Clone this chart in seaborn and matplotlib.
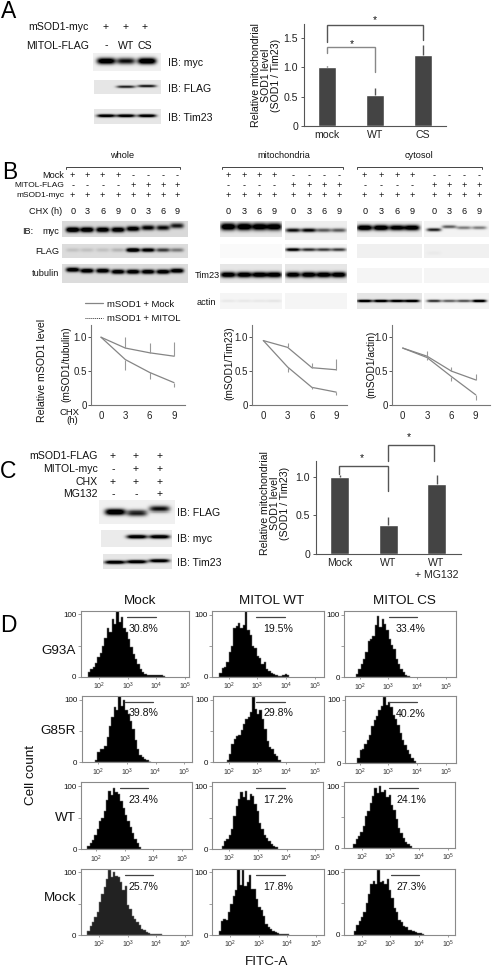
import numpy as np
import pandas as pd
import matplotlib
matplotlib.use('Agg')
import matplotlib.pyplot as plt
import seaborn as sns

W, H = 492, 968

# Panel A
a_cats = ['mock', 'WT', 'CS']
a_vals = [1.0, 0.53, 1.21]
a_errs = [0.01, 0.11, 0.16]
a_myc = [0.95, 0.7, 1.0]
a_flag = [0.0, 0.6, 0.65]
a_tim = [0.85, 0.85, 0.85]

# Panel B
b_hours = [0, 3, 6, 9]
b_chx = [0, 3, 6, 9, 0, 3, 6, 9]
b_mock_row = list('++++----')
b_mitol_row = list('----++++')
b_sod_row = list('++++++++')

whole_mock = [1.0, 0.84, 0.77, 0.72]
whole_mock_err = [0, 0.16, 0.14, 0.21]
whole_mitol = [1.0, 0.67, 0.48, 0.33]
whole_mitol_err = [0, 0.15, 0.10, 0.07]
mito_mock = [0.95, 0.85, 0.55, 0.52]
mito_mock_err = [0, 0.06, 0.07, 0.16]
mito_mitol = [0.95, 0.56, 0.26, 0.19]
mito_mitol_err = [0, 0.08, 0.02, 0.04]
cyto_mock = [0.84, 0.72, 0.50, 0.37]
cyto_mock_err = [0, 0.08, 0.06, 0.09]
cyto_mitol = [0.84, 0.70, 0.42, 0.15]
cyto_mitol_err = [0, 0.03, 0.06, 0.07]

whole_myc = [0.95, 0.9, 0.85, 0.85, 0.8, 0.7, 0.65, 0.6]
whole_flag = [0.08, 0.08, 0.08, 0.12, 0.95, 0.8, 0.5, 0.3]
whole_tub = [0.85, 0.85, 0.85, 0.85, 0.85, 0.85, 0.85, 0.85]
mito_myc_l = [0.95, 0.95, 0.9, 0.9]
mito_myc_r = [0.7, 0.75, 0.45, 0.45]
mito_flag_l = [0, 0, 0, 0]
mito_flag_r = [0.8, 0.6, 0.55, 0.55]
mito_tim_l = [0.9, 0.9, 0.9, 0.9]
mito_tim_r = [0.85, 0.9, 0.9, 0.9]
mito_act_l = [0.04, 0.04, 0.04, 0.05]
mito_act_r = [0, 0, 0, 0]
cyto_myc_l = [0.95, 0.95, 0.85, 0.9]
cyto_myc_r = [0.65, 0.45, 0.35, 0.35]
cyto_flag_l = [0, 0, 0, 0]
cyto_flag_r = [0.02, 0, 0, 0]
cyto_tim_l = [0, 0, 0, 0]
cyto_tim_r = [0, 0, 0, 0]
cyto_act_l = [0.85, 0.85, 0.8, 0.85]
cyto_act_r = [0.6, 0.45, 0.5, 0.9]

# Panel C
c_cats = ['Mock', 'WT', 'WT\n+ MG132']
c_vals = [1.0, 0.38, 0.90]
c_errs = [0.02, 0.10, 0.12]
c_rows = [('mSOD1-FLAG', list('+++')), ('MITOL-myc', list('-++')),
          ('CHX', list('+++')), ('MG132', list('--+'))]
c_flag = [0.95, 0.65, 0.7]
c_myc = [0.0, 0.9, 0.9]
c_tim = [0.9, 0.9, 0.85]

# Panel D, heights per 0.08 decade bin
g93a_mock = [8, 12, 16, 22, 32, 38, 50, 62, 78, 72, 92, 85, 106, 88, 96, 78, 72, 60, 48, 36, 28, 20, 12, 8, 5, 3, 2, 3, 2, 3, 2, 2, 1]
g93a_wt = [6, 14, 16, 24, 40, 50, 78, 82, 86, 78, 84, 108, 76, 68, 50, 46, 34, 30, 20, 24, 12, 10, 6, 5, 3, 1, 1, 2, 4, 2]
g93a_cs = [5, 14, 22, 30, 40, 58, 62, 66, 84, 98, 80, 94, 86, 76, 62, 52, 46, 30, 22, 14, 8, 4, 2]
g85r_mock = [4, 16, 22, 22, 26, 40, 58, 72, 88, 84, 106, 90, 100, 84, 78, 66, 54, 36, 22, 12, 8, 5, 3, 1]
g85r_wt = [4, 14, 30, 38, 42, 44, 52, 62, 70, 72, 80, 104, 86, 78, 84, 70, 54, 34, 24, 22, 14, 10, 3]
g85r_cs = [8, 20, 22, 30, 36, 44, 58, 68, 74, 84, 90, 104, 92, 96, 88, 76, 70, 60, 48, 36, 28, 20, 14, 8, 3]
wt_mock = [5, 10, 15, 22, 32, 44, 50, 60, 78, 92, 86, 97, 90, 88, 76, 66, 54, 44, 36, 26, 16, 10, 3]
wt_wt = [5, 12, 16, 22, 32, 52, 68, 80, 90, 82, 92, 78, 88, 84, 72, 60, 42, 32, 22, 18, 12, 8, 4, 3]
wt_cs = [6, 14, 20, 26, 36, 52, 60, 72, 84, 96, 88, 100, 90, 94, 82, 86, 70, 62, 46, 32, 24, 16, 10, 6, 3]
mock_mock = [6, 14, 20, 28, 36, 52, 66, 76, 90, 104, 92, 100, 94, 92, 84, 72, 78, 48, 42, 30, 26, 20, 16, 10, 8, 5, 3, 2, 1, 1, 2, 1]
mock_wt = [6, 22, 26, 24, 36, 50, 62, 72, 106, 80, 104, 78, 84, 96, 74, 74, 58, 44, 40, 30, 18, 12, 10, 6, 5, 3, 1, 1, 2, 1]
mock_cs = [6, 16, 22, 28, 36, 50, 66, 82, 86, 82, 104, 84, 86, 82, 90, 72, 58, 42, 36, 24, 20, 14, 12, 8, 7, 5, 4, 3, 2, 1]
hist_starts = [1.62, 1.67, 1.87, 1.88, 1.93, 1.92, 1.70, 1.73, 1.71, 1.59, 1.60, 1.73]
hist_pcts = ['30.8%', '19.5%', '33.4%', '39.8%', '29.8%', '40.2%',
             '23.4%', '17.2%', '24.1%', '25.7%', '17.8%', '27.3%']
d_cols = ['Mock', 'MITOL WT', 'MITOL CS']
d_rows = ['G93A', 'G85R', 'WT', 'Mock']

sns.set_theme(style='ticks')
plt.rcParams['font.family'] = ['Liberation Sans', 'DejaVu Sans']
plt.rcParams['axes.linewidth'] = 0.8

fig = plt.figure(figsize=(W / 100, H / 100), dpi=100)
DARK = '#444444'
AX_C = '#555555'
LINE_C = '#858585'


def px_axes(x0, y0, x1, y1):
    return fig.add_axes([x0 / W, 1 - y1 / H, (x1 - x0) / W, (y1 - y0) / H])


def blot(x0, y0, x1, y1, centers, strength, band_y, band_h, bg):
    ax = px_axes(x0, y0, x1, y1)
    xs = np.arange(x0, x1, 0.5) + 0.25
    ys = np.arange(y0, y1, 0.5) + 0.25
    xx, yy = np.meshgrid(xs, ys)
    half = 0.47 * (centers[1] - centers[0])
    img = np.full(xx.shape, float(bg))
    by = band_y if np.ndim(band_y) else [band_y] * len(centers)
    for c, s, b in zip(centers, strength, by):
        img += 1.3 * s * np.exp(-((xx - c) / half) ** 4 - ((yy - b) / band_h) ** 2)
    sns.heatmap(np.clip(img, 0, 1), ax=ax, cmap='gray_r', vmin=0, vmax=1, cbar=False,
                xticklabels=False, yticklabels=False)
    ax.tick_params(length=0)


def bar_panel(rect, cats, vals, errs, xlim, ylim, ticks, labels, fs):
    ax = px_axes(*rect)
    sns.barplot(x=cats, y=vals, color=DARK, width=0.39, saturation=1, ax=ax)
    ax.errorbar(range(3), vals, yerr=[[0, 0, 0], errs], fmt='none', ecolor='#555555',
                elinewidth=1.0, capsize=0)
    ax.set_xlim(*xlim)
    ax.set_ylim(*ylim)
    ax.set_yticks(ticks)
    ax.set_yticklabels(labels)
    sns.despine(ax=ax)
    ax.tick_params(labelsize=fs, length=2, width=0.7, pad=2, color=AX_C, labelcolor='#222222')
    ax.tick_params(axis='x', length=0, pad=3)
    for s in ['left', 'bottom']:
        ax.spines[s].set_color(AX_C)
    return ax


def line_panel(rect, mock, mock_err, mitol, mitol_err, xlim):
    ax = px_axes(*rect)
    sns.lineplot(x=b_hours, y=mock, color=LINE_C, linewidth=0.9, ax=ax)
    sns.lineplot(x=b_hours, y=mitol, color=LINE_C, linewidth=0.9, ax=ax)
    z = [0, 0, 0, 0]
    ax.errorbar(b_hours, mock, yerr=[z, mock_err], fmt='none', ecolor='#999999', elinewidth=0.8)
    ax.errorbar(b_hours, mitol, yerr=[mitol_err, z], fmt='none', ecolor='#999999', elinewidth=0.8)
    ax.set_xlim(*xlim)
    ax.set_ylim(0, 1.18)
    ax.set_xticks(b_hours)
    ax.set_yticks([0, 0.5, 1.0])
    ax.set_yticklabels(['0', '0.5', '1.0'])
    sns.despine(ax=ax)
    ax.tick_params(labelsize=7, length=2, width=0.7, pad=1, color=AX_C, labelcolor='#222222')
    ax.tick_params(axis='x', length=0, pad=4)
    for s in ['left', 'bottom']:
        ax.spines[s].set_color('#777777')
    return ax


# Panel A
blot(93, 52.7, 161, 70.7, [106, 125.7, 146.7], a_myc, 61, 3.2, 0.06)
blot(94, 80, 161, 94.3, [106, 125.7, 146.7], a_flag, [87, 87, 86.3], 1.4, 0.1)
blot(94, 109, 161, 124, [106, 125.7, 146.7], a_tim, 115.5, 1.6, 0.1)
bar_panel((303.5, 24, 446, 126), a_cats, a_vals, a_errs, (-0.49, 2.48), (0, 1.73),
          [0, 0.5, 1.0, 1.5], ['0', '0.5', '1.0', '1.5'], 7.6)

# Panel B blots
whole_x = [72.7, 87, 102.7, 118, 133, 148, 163, 177]
mito_lx = [228, 244, 259.3, 274]
mito_rx = [293.3, 309, 324, 339]
cyto_lx = [364.7, 381, 397, 412]
cyto_rx = [434, 449.3, 464, 479.3]
blot(61.7, 221, 188, 236.7, whole_x, whole_myc, [230, 230, 230, 230, 229, 228, 228, 226], 2.6, 0.15)
blot(61.7, 243.7, 188, 257.7, whole_x, whole_flag, 250, 2.0, 0.14)
blot(61.7, 264, 188, 282.7, whole_x, whole_tub, [270, 271, 271, 272, 272, 272, 272, 271], 2.3, 0.14)
blot(220, 221, 282, 236.7, mito_lx, mito_myc_l, 227, 3.6, 0.1)
blot(285, 221, 346.7, 240, mito_rx, mito_myc_r, 230, 2.0, 0.07)
blot(220, 243.7, 282, 257.7, mito_lx, mito_flag_l, 250, 2, 0.02)
blot(285, 243.7, 346.7, 257.7, mito_rx, mito_flag_r, 249.6, 1.7, 0.05)
blot(220, 264, 282, 282.7, mito_lx, mito_tim_l, 275, 2.8, 0.1)
blot(285, 264, 346.7, 282.7, mito_rx, mito_tim_r, 275, 2.8, 0.1)
blot(220, 293.3, 282, 309.3, mito_lx, mito_act_l, 301, 1.5, 0.04)
blot(285, 293.3, 346.7, 309.3, mito_rx, mito_act_r, 301, 1.5, 0.04)
blot(357.3, 221, 422, 236.7, cyto_lx, cyto_myc_l, 228, 2.8, 0.08)
blot(424.3, 221, 489, 236.7, cyto_rx, cyto_myc_r, [230, 227, 228, 228], 1.7, 0.05)
blot(357.3, 243.7, 422, 257.7, cyto_lx, cyto_flag_l, 250, 2, 0.06)
blot(424.3, 243.7, 489, 257.7, cyto_rx, cyto_flag_r, 253, 2, 0.06)
blot(357.3, 268, 422, 282.7, cyto_lx, cyto_tim_l, 275, 2, 0.04)
blot(424.3, 268, 489, 282.7, cyto_rx, cyto_tim_r, 275, 2, 0.04)
blot(357.3, 293.3, 422, 309.3, cyto_lx, cyto_act_l, 301, 1.4, 0.1)
blot(424.3, 293.3, 489, 309.3, cyto_rx, cyto_act_r, 301, 1.4, 0.05)

# Panel B curves
line_panel((90.7, 325, 185, 405), whole_mock, whole_mock_err, whole_mitol, whole_mitol_err, (-1.27, 10.36))
line_panel((251.7, 325, 346.7, 405), mito_mock, mito_mock_err, mito_mitol, mito_mitol_err, (-1.44, 10.3))
line_panel((392.3, 325, 490, 405), cyto_mock, cyto_mock_err, cyto_mitol, cyto_mitol_err, (-1.28, 10.76))

# Panel C
blot(99, 500, 175, 524, [115, 136.7, 159.3], c_flag, [512, 513, 509], 3.0, 0.06)
blot(101, 530, 172, 546.7, [115, 136.7, 159.3], c_myc, 537, 2.0, 0.08)
blot(102.7, 554, 172, 569, [115, 136.7, 159.3], c_tim, [562, 561.5, 560.5], 1.8, 0.1)
bar_panel((315.7, 460.7, 460.7, 554.3), c_cats, c_vals, c_errs, (-0.5, 2.5), (0, 1.206),
          [0, 0.5, 1.0], ['0', '0.5', '1.0'], 7.6)

# Panel D
hist_data = [g93a_mock, g93a_wt, g93a_cs, g85r_mock, g85r_wt, g85r_cs,
             wt_mock, wt_wt, wt_cs, mock_mock, mock_wt, mock_cs]
d_boxes = [(80.7, 610.7, 189.3, 676.7), (212, 611, 324, 676.7), (344, 611, 456, 677.3),
           (81.7, 696, 192.3, 762.3), (212.7, 696, 324.3, 762.3), (345, 696, 456, 763),
           (81.3, 782.3, 192, 849.3), (212.3, 782.3, 323.3, 849), (343.7, 782.3, 454.7, 848),
           (80.7, 868.7, 192.3, 935), (212, 868.7, 323.7, 935), (344, 868.7, 454.7, 934.5)]
d_t2 = [99, 228.7, 359.7, 98.3, 228.7, 359.7, 96, 229.3, 361.7, 99, 230, 361.7]
d_dec = 28.7
for i, (box, h, st, t2) in enumerate(zip(d_boxes, hist_data, hist_starts, d_t2)):
    ax = px_axes(*box)
    edges = st + 0.0816 * np.arange(len(h) + 1)
    fill = '#222222' if i == 9 else 'black'
    sns.histplot(x=edges[:-1] + 0.04, weights=h, bins=list(edges), element='step', color=fill,
                 alpha=1, edgecolor='#777777', linewidth=0.35, ax=ax)
    ax.set_xlim(2 + (box[0] - t2) / d_dec, 2 + (box[2] - t2) / d_dec)
    ax.set_ylim(0, 106)
    ax.set_xticks([2, 3, 4, 5])
    ax.set_xticklabels(['$\\mathregular{10^{%d}}$' % n for n in [2, 3, 4, 5]])
    ax.set_yticks([0, 50, 100])
    ax.set_yticklabels(['0', '', '100'])
    ax.set_xlabel('')
    ax.set_ylabel('')
    ax.tick_params(axis='x', labelsize=5, length=1.5, width=0.5, pad=1.5, color='#777777', labelcolor='#333333')
    ax.tick_params(axis='y', labelsize=5.8, length=2, width=0.5, pad=1, color='#777777', labelcolor='#111111')
    for s in ax.spines.values():
        s.set_color('#8a8a8a')
        s.set_linewidth(0.8)

# overlay in pixel coordinates for labels and brackets
pg = fig.add_axes([0, 0, 1, 1], zorder=10)
pg.set_xlim(0, W)
pg.set_ylim(H, 0)
pg.axis('off')
pg.patch.set_alpha(0)


def t(x, y, s, fs=7.6, ha='center', rot=0, color='#111111', ls=1.0):
    # va center includes the descent, so nudge the glyphs back onto the given point
    if rot:
        x = x + 0.14 * fs
    else:
        y = y + 0.14 * fs
    pg.text(x, y, s, fontsize=fs, ha=ha, va='center', rotation=rot, color=color,
            linespacing=ls, multialignment='center')


def bracket(xs, ys, color='#555555', lw=1.0):
    pg.plot(xs, ys, color=color, lw=lw, solid_joinstyle='miter')


for x, y, s in [(8.5, 9.5, 'A'), (10, 170, 'B'), (8.5, 469.5, 'C'), (8.5, 623, 'D')]:
    t(x, y, s, fs=16.5, color='black')

# A labels
t(89, 25.7, 'mSOD1-myc', ha='right')
t(89, 45, 'MITOL-FLAG', ha='right')
for x, a, b in zip([106, 125.7, 145], list('+++'), ['-', 'WT', 'CS']):
    t(x, 25.7, a)
    t(x, 44.5, b)
t(168, 61.7, 'IB: myc', ha='left')
t(168, 88, 'IB: FLAG', ha='left')
t(168, 117.3, 'IB: Tim23', ha='left')
t(265, 75, 'Relative mitochondrial\nSOD1 level\n(SOD1 / Tim23)', rot=90, ls=0.95)
bracket([327, 327, 422.5, 422.5], [41.7, 25, 25, 40], '#555555')
bracket([327, 327, 375, 375], [53, 47, 47, 72], '#888888')
t(375, 19, '*', fs=7.5)
t(352, 43, '*', fs=7.5)

# B labels
for x, s in [(122, 'whole'), (284, 'mitochondria'), (419, 'cytosol')]:
    t(x, 155, s, fs=6.6)
for x0, x1 in [(66, 180), (222, 342.7), (357, 482.3)]:
    bracket([x0, x0, x1, x1], [169, 166.7, 166.7, 169], '#444444', 0.7)
t(64, 175, 'Mock', fs=6.6, ha='right')
t(64, 185, 'MITOL-FLAG', fs=6, ha='right')
t(64, 195, 'mSOD1-myc', fs=6, ha='right')
t(61.7, 211, 'CHX (h)', fs=6.6, ha='right')
t(22.5, 231, 'IB:', fs=6.6, ha='left')
t(59, 231, 'myc', fs=6.6, ha='right')
t(59, 251, 'FLAG', fs=6.6, ha='right')
t(59, 272.7, 'tubulin', fs=6.6, ha='right')
t(220, 275, 'Tim23', fs=6.6, ha='right')
t(216, 301.7, 'actin', fs=6.6, ha='right')
b_groups = [[72.7, 87, 102.7, 118, 133, 148, 163, 177],
            mito_lx + [293.3, 309, 324, 339],
            cyto_lx + cyto_rx]
for xs in b_groups:
    for x, a, b, c, n in zip(xs, b_mock_row, b_mitol_row, b_sod_row, b_chx):
        t(x, 175, a, fs=6.6)
        t(x, 185, b, fs=6.6)
        t(x, 195, c, fs=6.6)
        t(x, 211, str(n), fs=6.6)

pg.plot([85, 103], [303, 303], color=LINE_C, lw=0.9)
pg.plot([85, 103], [318, 318], color='#333333', lw=0.7, ls=(0, (1, 1)))
t(107, 303.5, 'mSOD1 + Mock', fs=6.8, ha='left')
t(107, 318, 'mSOD1 + MITOL', fs=6.8, ha='left')
t(40.7, 370, 'Relative mSOD1 level', fs=7.6, rot=90)
t(65, 364, '(mSOD1/tubulin)', fs=7.3, rot=90)
t(228, 363, '(mSOD1/Tim23)', fs=7.3, rot=90)
t(370, 364, '(mSOD1/actin)', fs=7.3, rot=90)
t(69, 411.5, 'CHX', fs=6.8)
t(72, 419.5, '(h)', fs=6.8)

# C labels
for (name, row), y in zip(c_rows, [455, 467.7, 480.7, 493.3]):
    t(98, y, name, ha='right')
    for x, s in zip([113, 136, 159.3], row):
        t(x, y, s)
t(176.7, 511.7, 'IB: FLAG', ha='left')
t(176.7, 538.3, 'IB: myc', ha='left')
t(176.7, 562.3, 'IB: Tim23', ha='left')
t(274, 503, 'Relative mitochondrial\nSOD1 level\n(SOD1 / Tim23)', rot=90, ls=0.95)
bracket([339, 339, 387.5, 387.5], [474.3, 465.5, 465.5, 490.7], '#555555')
bracket([388, 388, 434, 434], [460.7, 444.5, 444.5, 460.7], '#555555')
t(362, 457, '*', fs=7.5)
t(409, 436, '*', fs=7.5)

# D labels
for x, s in zip([140, 271.7, 404], d_cols):
    t(x, 600, s, fs=9.7)
for y, s in zip([650, 729.3, 816.7, 896.7], d_rows):
    t(76, y, s, fs=9.7, ha='right')
t(30, 775, 'Cell count', fs=9.7, rot=90)
t(266.7, 961, 'FITC-A', fs=9.7)
gate_x = [127, 256, 388.5, 124.5, 256, 388.5, 119.5, 256, 389, 124.5, 256, 390.5]
gate_y = [617, 617, 617, 701.7, 701.7, 702, 788.3, 788.3, 788.3, 875, 875, 875]
pct_x = [143.3, 278.3, 411, 143.3, 278.3, 411, 143.3, 278.3, 411, 143.3, 278.3, 411]
for gx, gy, px_, p in zip(gate_x, gate_y, pct_x, hist_pcts):
    pg.plot([gx, gx + 28.5], [gy, gy], color='#444444', lw=0.9)
    t(px_, gy + 10.5, p, fs=7.6)

fig.savefig('out.png', dpi=100)
